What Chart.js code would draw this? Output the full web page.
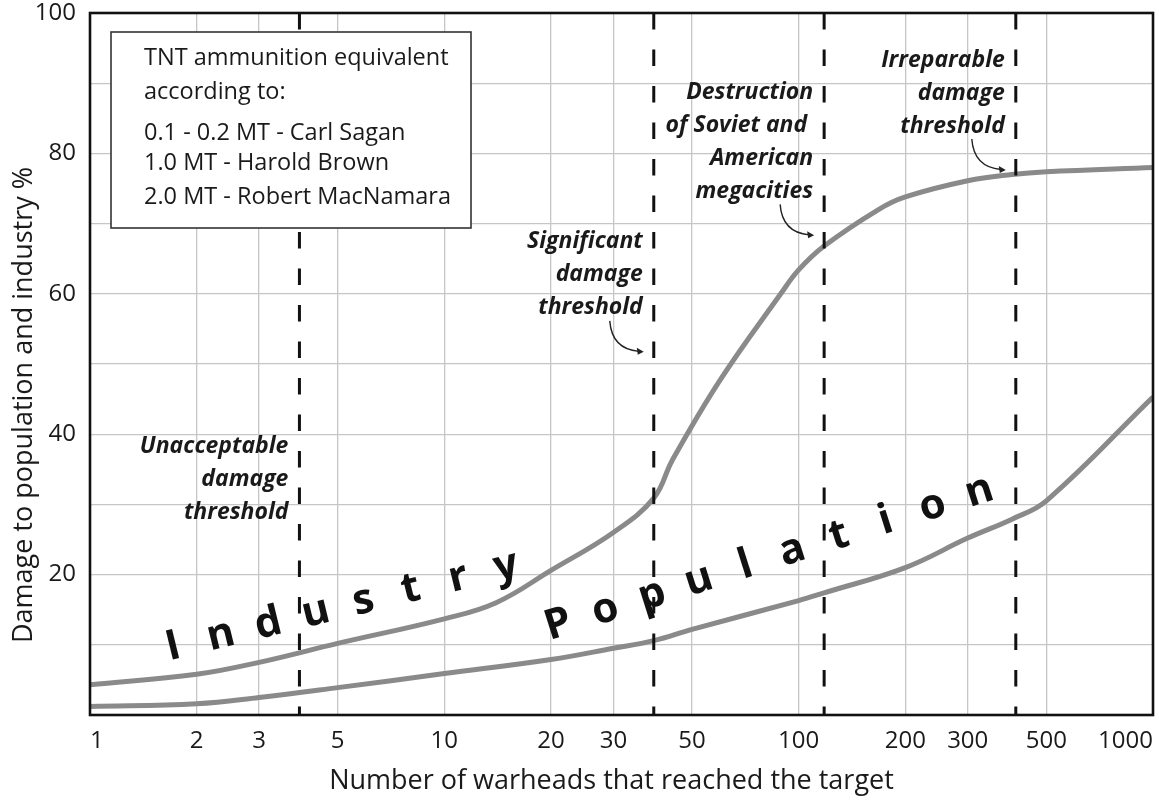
<!DOCTYPE html>
<html>
<head>
<meta charset="utf-8">
<script src="https://cdn.jsdelivr.net/npm/chart.js@4.4.1/dist/chart.umd.min.js"></script>
<style>
html,body{margin:0;padding:0;background:#fff;}
#wrap{width:1159px;height:801px;position:relative;}
</style>
</head>
<body>
<div id="wrap"><canvas id="c" width="1159" height="801"></canvas></div>
<script>
// ---- data ----
const industryX = [1, 2, 3, 5, 10, 14, 20, 30, 39, 44, 60, 89, 100, 118, 168, 200, 300, 400, 500, 1000];
const industryY = [4.3, 5.8, 7.5, 10.2, 13.7, 16, 20.6, 26, 30.9, 36.3, 47.7, 60, 63.4, 66.8, 72.0, 73.8, 76.1, 77.0, 77.4, 78];
const populationX = [1, 2, 3, 5, 10, 20, 30, 39, 50, 100, 118, 200, 300, 400, 500, 1000];
const populationY = [1.2, 1.6, 2.5, 3.9, 5.9, 7.9, 9.5, 10.6, 12.2, 16.3, 17.4, 21.0, 25.2, 27.9, 30.5, 45.3];
const xTickValues = [1, 2, 3, 5, 10, 20, 30, 50, 100, 200, 300, 500, 1000];
const yTickStep = 10;
const thresholdX = [3.9, 39, 118, 410];
const thresholdText = [
  ["Unacceptable", "damage", "threshold"],
  ["Significant", "damage", "threshold"],
  ["Destruction", "of Soviet and ", "American", "megacities"],
  ["Irreparable", "damage", "threshold"]
];
const thresholdTextTopY = [38.2, 67.4, 88.7, 93.3];
const thresholdArrow = [false, true, true, true];
const legendLines = [
  "TNT ammunition equivalent",
  "according to:",
  "0.1 - 0.2 MT - Carl Sagan",
  "1.0 MT - Harold Brown",
  "2.0 MT - Robert MacNamara"
];
const curveWords = [
  {text: "Industry",   from: [1.75, 8.0],  to: [15.2, 19.5]},
  {text: "Population", from: [21.5, 11.2], to: [331, 30.2]}
];
const xTitle = "Number of warheads that reached the target";
const yTitle = "Damage to population and industry %";

// ---- styling ----
const FONT = "'Open Sans', 'Noto Sans', sans-serif";
const INK = "#1a1a1a";
const CURVE = "#8a8a8a";

const pts = (xs, ys) => xs.map((v, i) => ({x: v, y: ys[i]}));

const thresholdSets = thresholdX.map(v => ({
  data: [{x: v, y: 100}, {x: v, y: 0}],
  borderColor: "#111",
  borderWidth: 3,
  borderDash: [16.5, 20],
  pointRadius: 0,
  tension: 0,
  order: 0
}));

const annot = {
  id: "annot",
  afterDatasetsDraw(chart) {
    const {ctx, chartArea: a, scales: {x, y}} = chart;
    ctx.save();

    // plot frame
    ctx.strokeStyle = "#111";
    ctx.lineWidth = 2.6;
    ctx.strokeRect(a.left, a.top, a.right - a.left, a.bottom - a.top);

    // y axis title
    ctx.save();
    ctx.translate(24, (a.top + a.bottom) / 2 + 41);
    ctx.rotate(-Math.PI / 2);
    ctx.fillStyle = INK;
    ctx.font = "400 27px " + FONT;
    ctx.textAlign = "center";
    ctx.textBaseline = "middle";
    ctx.fillText(yTitle, 0, 0);
    ctx.restore();

    // x axis title
    ctx.fillStyle = INK;
    ctx.font = "400 27px " + FONT;
    ctx.textAlign = "center";
    ctx.textBaseline = "middle";
    ctx.fillText(xTitle, (a.left + a.right) / 2 - 10, a.bottom + 66);

    // legend / note box
    const bx = a.left + 21, by = a.top + 19, bw = 360, bh = 196;
    ctx.fillStyle = "#fff";
    ctx.fillRect(bx, by, bw, bh);
    ctx.strokeStyle = "#333";
    ctx.lineWidth = 1.6;
    ctx.strokeRect(bx, by, bw, bh);
    ctx.fillStyle = INK;
    ctx.font = "400 23.5px " + FONT;
    ctx.textAlign = "left";
    ctx.textBaseline = "middle";
    const lineOff = [26, 60, 101, 131, 165];
    legendLines.forEach((t, i) => ctx.fillText(t, bx + 33, by + lineOff[i]));

    // threshold labels + arrows
    ctx.font = "italic 700 23px " + FONT;
    ctx.textAlign = "right";
    thresholdX.forEach((v, i) => {
      const px = x.getPixelForValue(v);
      const py0 = y.getPixelForValue(thresholdTextTopY[i]);
      const lines = thresholdText[i];
      lines.forEach((t, j) => ctx.fillText(t, px - 11, py0 + j * 33));
      if (thresholdArrow[i]) {
        const lastY = py0 + (lines.length - 1) * 33;
        const sx = px - 44, sy = lastY + 13;
        const ex = px - 10, ey = lastY + 44;
        ctx.strokeStyle = "#222";
        ctx.lineWidth = 1.4;
        ctx.beginPath();
        ctx.moveTo(sx, sy);
        ctx.quadraticCurveTo(sx + 2, ey - 3, ex - 5, ey - 0.5);
        ctx.stroke();
        ctx.fillStyle = "#222";
        ctx.beginPath();
        ctx.moveTo(ex, ey);
        ctx.lineTo(ex - 7, ey - 4);
        ctx.lineTo(ex - 6, ey + 3);
        ctx.closePath();
        ctx.fill();
        ctx.fillStyle = INK;
      }
    });

    // words written along the curves
    ctx.font = "700 42px " + FONT;
    ctx.textAlign = "center";
    ctx.textBaseline = "alphabetic";
    ctx.fillStyle = "#111";
    curveWords.forEach(w => {
      const p0 = {x: x.getPixelForValue(w.from[0]), y: y.getPixelForValue(w.from[1])};
      const p1 = {x: x.getPixelForValue(w.to[0]), y: y.getPixelForValue(w.to[1])};
      const ang = Math.atan2(p1.y - p0.y, p1.x - p0.x);
      const n = w.text.length;
      for (let i = 0; i < n; i++) {
        const t = i / (n - 1);
        ctx.save();
        ctx.translate(p0.x + (p1.x - p0.x) * t, p0.y + (p1.y - p0.y) * t);
        ctx.rotate(ang);
        ctx.fillText(w.text[i], 0, 0);
        ctx.restore();
      }
    });
    ctx.restore();
  }
};

new Chart(document.getElementById("c"), {
  type: "line",
  data: {
    datasets: [
      ...thresholdSets,
      {data: pts(industryX, industryY), borderColor: CURVE, borderWidth: 5, pointRadius: 0, tension: 0.4, order: 1},
      {data: pts(populationX, populationY), borderColor: CURVE, borderWidth: 5, pointRadius: 0, tension: 0.4, order: 1}
    ]
  },
  options: {
    responsive: false,
    animation: false,
    layout: {padding: {top: 13, right: 6, left: 0, bottom: 0}},
    plugins: {legend: {display: false}, tooltip: {enabled: false}},
    scales: {
      x: {
        type: "logarithmic",
        min: 1, max: 1000,
        afterBuildTicks: s => { s.ticks = xTickValues.map(v => ({value: v})); },
        afterFit: s => { s.height = 86; s.paddingLeft = 0; s.paddingRight = 0; },
        ticks: {
          align: "inner", autoSkip: false, maxRotation: 0, minRotation: 0,
          padding: 12, color: INK, font: {family: FONT, size: 24},
          callback: v => String(v)
        },
        grid: {color: "#c6c6c6", lineWidth: 1.3, drawTicks: false},
        border: {display: false},
        title: {display: false}
      },
      y: {
        min: 0, max: 100,
        afterFit: s => { s.width = 90; s.paddingTop = 0; s.paddingBottom = 0; },
        ticks: {
          stepSize: yTickStep, padding: 14, color: INK, font: {family: FONT, size: 24},
          callback: v => (v > 0 && v % 20 === 0) ? String(v) : ""
        },
        grid: {color: "#c6c6c6", lineWidth: 1.3, drawTicks: false},
        border: {display: false},
        title: {display: false}
      }
    }
  },
  plugins: [annot]
});
</script>
</body>
</html>
